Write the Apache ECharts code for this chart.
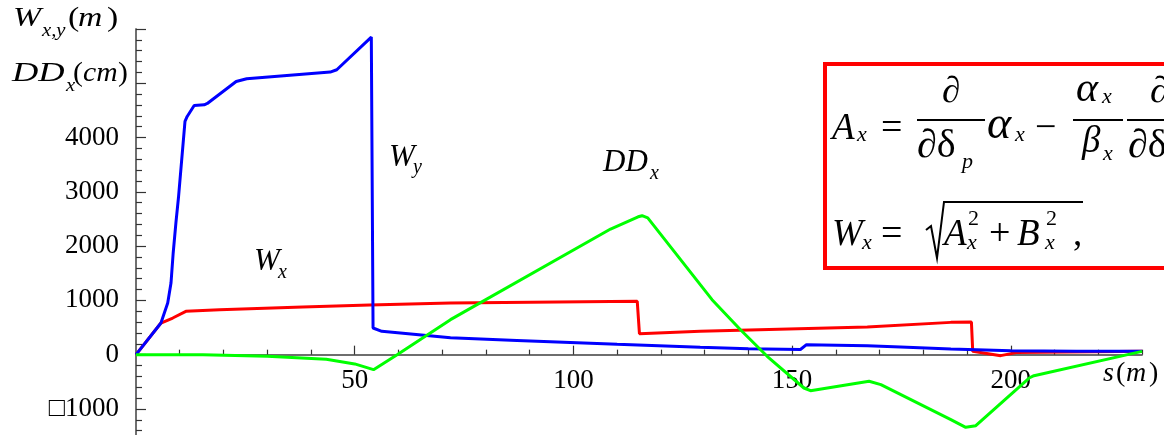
<!DOCTYPE html>
<html>
<head>
<meta charset="utf-8">
<script src="https://cdn.jsdelivr.net/npm/echarts@6/dist/echarts.min.js"></script>
<style>
  html, body { margin: 0; padding: 0; background: #fff; }
  #chart { width: 1164px; height: 435px; }
</style>
</head>
<body>
<div id="chart"></div>
<script>
// Path position s (m) and values for each curve
const wyS = [0, 5.7, 7.25, 8.0, 8.5, 9.15, 9.7, 11.2, 11.7, 13.3, 15.6, 16.3, 22.9, 25.3, 44.4, 45.9, 53.8, 54.2, 56.2, 71.9, 87.1, 110, 129, 140, 151.9, 153.3, 167.2, 174.8, 186.3, 200, 215, 230];
const wyV = [0, 583, 951, 1320, 1873, 2450, 2886, 4297, 4389, 4591, 4604, 4628, 5033, 5083, 5206, 5249, 5851, 491, 430, 310, 263, 190, 135, 110, 95, 184, 166, 142, 105, 70, 62, 61];

const wxS = [0, 5.7, 8.4, 11.4, 19.1, 38.1, 53.4, 71.9, 114.6, 115.1, 129, 167.2, 186.3, 191, 191.3, 197.7, 201.5, 230];
const wxV = [0, 583, 675, 798, 829, 878, 913, 952, 982, 387, 430, 510, 595, 600, 61, -18, 42, 61];

const ddS = [0, 15.3, 30, 43.5, 50, 54.3, 59.7, 71.9, 108.5, 114.8, 115.7, 117, 131.7, 138.2, 144.3, 152.7, 154.2, 167.6, 170.3, 186.3, 189.7, 192, 204.2, 205.3, 230];
const ddV = [0, 0, -30, -85, -170, -276, 0, 645, 2315, 2540, 2560, 2520, 1013, 460, -30, -614, -663, -491, -552, -1197, -1339, -1308, -430, -387, 61];

// Tick positions
const xMajorTicks = [50, 100, 150, 200];
const xMinorTicks = [10, 20, 30, 40, 60, 70, 80, 90, 110, 120, 130, 140, 160, 170, 180, 190, 210, 220, 230];
const yMajorTicks = [-1000, 0, 1000, 2000, 3000, 4000, 5000, 6000];
const yLabelTicks = [-1000, 0, 1000, 2000, 3000, 4000];
const yMinorTicks = [];
for (let v = -1400; v <= 5800; v += 200) if (v % 1000 !== 0) yMinorTicks.push(v);

const SERIF = '"Liberation Serif", "DejaVu Serif", serif';
const zip = (a, b) => a.map((v, i) => [v, b[i]]);

// text placed by its alphabetic baseline, optionally stretched horizontally
function t(str, x, base, size, italic, sx) {
  return {
    type: 'text', x: x, y: base - 0.34 * size, z: 100,
    scaleX: sx || 1,
    style: {
      text: str, fill: '#000',
      font: (italic ? 'italic ' : '') + size + 'px ' + SERIF,
      align: 'left', textAlign: 'left',
      verticalAlign: 'middle', textVerticalAlign: 'middle'
    }
  };
}
function hline(x1, x2, y, w) {
  return { type: 'line', z: 100, shape: { x1: x1, y1: y, x2: x2, y2: y }, style: { stroke: '#000', lineWidth: w || 2 } };
}

const axisColor = '#666';
const labelStyle = { fontFamily: SERIF, fontSize: 27, color: '#000' };

const graphics = [
  // axis titles
  t('W', 13, 28, 27, true, 1.25), t('x,y', 42, 37, 18, true, 1.15),
  t('(', 68, 28, 27, false, 1.25), t('m', 78, 28, 27, true, 1.25), t(')', 107, 28, 27, false, 1.25),
  t('DD', 12, 83, 27, true, 1.35), t('x', 66, 92, 18, true, 1.15),
  t('(', 73, 83, 27, false, 1.1), t('cm', 83, 83, 27, true, 1.1), t(')', 118, 83, 27, false, 1.1),
  t('s', 1103, 383, 28, true), t('(', 1116, 383, 28, false), t('m', 1126, 383, 28, true), t(')', 1149, 383, 28, false),
  // curve names
  t('W', 254, 272, 31, true), t('x', 278, 280, 20, true),
  t('W', 389, 168, 31, true), t('y', 413, 175, 20, true),
  t('DD', 603, 173, 31, true), t('x', 650, 181, 20, true),
  // formula frame
  { type: 'rect', z: 90, shape: { x: 825, y: 64, width: 360, height: 204 }, style: { fill: '#fff', stroke: '#ff0000', lineWidth: 4 } },
  // A_x = d/d(delta_p) alpha_x - alpha_x/beta_x d/d(delta) ...
  t('A', 832, 142, 37, true), t('x', 857, 143, 22, true),
  t('=', 881, 142, 38, false),
  t('\u2202', 942, 105, 37, false), hline(917, 985, 120),
  t('\u2202\u03B4', 917, 160, 40, false), t('p', 962, 170, 22, true),
  t('\u03B1', 987, 142, 46, true), t('x', 1015, 143, 22, true),
  t('\u2212', 1035, 142, 38, false),
  t('\u03B1', 1076, 104, 42, true), t('x', 1102, 105, 22, true), hline(1073, 1123, 120),
  t('\u03B2', 1082, 155, 37, true), t('x', 1103, 162, 22, true),
  t('\u2202', 1150, 105, 37, false), hline(1127, 1175, 120),
  t('\u2202\u03B4', 1128, 160, 40, false),
  // W_x = sqrt(A_x^2 + B_x^2),
  t('W', 832, 248, 37, true), t('x', 862, 251, 22, true),
  t('=', 881, 248, 38, false),
  { type: 'polyline', z: 100, shape: { points: [[926, 230], [931, 226], [937, 258], [944, 202], [1083, 202]] }, style: { stroke: '#000', lineWidth: 2, fill: null } },
  t('A', 944, 248, 37, true), t('2', 968, 227, 22, false), t('x', 967, 251, 22, true),
  t('+', 989, 248, 38, false),
  t('B', 1017, 248, 37, true), t('2', 1046, 227, 22, false), t('x', 1045, 251, 22, true),
  t(',', 1073, 248, 37, false)
];

const chart = echarts.init(document.getElementById('chart'), null, { renderer: 'canvas' });
chart.setOption({
  animation: false,
  backgroundColor: '#fff',
  grid: [
    { left: 136, right: 22, top: 29, bottom: 0, containLabel: false, outerBoundsMode: 'none' },
    // label strip whose lower edge sits on the s axis line (value 0)
    { left: 136, right: 22, top: 29, height: 326, containLabel: false, outerBoundsMode: 'none' }
  ],
  xAxis: [
    {
      type: 'value', min: 0, max: 230, position: 'bottom', gridIndex: 0,
      axisLine: { show: true, onZero: true, onZeroAxisIndex: 0, lineStyle: { color: axisColor, width: 1.5 } },
      axisTick: { show: true, inside: true, length: 9, customValues: xMajorTicks, lineStyle: { color: '#333', width: 1.2 } },
      axisLabel: { show: false },
      splitLine: { show: false }
    },
    {
      type: 'value', min: 0, max: 230, position: 'bottom', gridIndex: 0,
      axisLine: { show: true, onZero: true, onZeroAxisIndex: 0, lineStyle: { color: axisColor, width: 1.5 } },
      axisTick: { show: true, inside: true, length: 5, customValues: xMinorTicks, lineStyle: { color: '#333', width: 1.2 } },
      axisLabel: { show: false },
      splitLine: { show: false }
    },
    {
      type: 'value', min: 0, max: 230, position: 'bottom', gridIndex: 1,
      axisLine: { show: false, onZero: false },
      axisTick: { show: false },
      axisLabel: Object.assign({ customValues: xMajorTicks, margin: 12 }, labelStyle),
      splitLine: { show: false }
    }
  ],
  yAxis: [
    {
      type: 'value', min: -1480, max: 6000, position: 'left', gridIndex: 0,
      axisLine: { show: true, onZero: false, lineStyle: { color: axisColor, width: 1.5 } },
      axisTick: { show: true, inside: true, length: 10, customValues: yMajorTicks, lineStyle: { color: '#333', width: 1.2 } },
      axisLabel: Object.assign({
        customValues: yLabelTicks, margin: 17,
        formatter: v => (v < 0 ? '\u25A1' + Math.abs(v) : String(v))
      }, labelStyle),
      splitLine: { show: false }
    },
    {
      type: 'value', min: -1480, max: 6000, position: 'left', gridIndex: 0,
      axisLine: { show: true, onZero: false, lineStyle: { color: axisColor, width: 1.5 } },
      axisTick: { show: true, inside: true, length: 6, customValues: yMinorTicks, lineStyle: { color: '#333', width: 1.2 } },
      axisLabel: { show: false },
      splitLine: { show: false }
    },
    {
      type: 'value', min: 0, max: 1, gridIndex: 1, show: false
    }
  ],
  series: [
    { name: 'Wx', type: 'line', xAxisIndex: 0, yAxisIndex: 0, data: zip(wxS, wxV), symbol: 'none', z: 3, lineStyle: { color: '#ff0000', width: 3 }, itemStyle: { color: '#ff0000' } },
    { name: 'Wy', type: 'line', xAxisIndex: 0, yAxisIndex: 0, data: zip(wyS, wyV), symbol: 'none', z: 4, lineStyle: { color: '#0000ff', width: 3 }, itemStyle: { color: '#0000ff' } },
    { name: 'DDx', type: 'line', xAxisIndex: 0, yAxisIndex: 0, data: zip(ddS, ddV), symbol: 'none', z: 5, lineStyle: { color: '#00ff00', width: 3 }, itemStyle: { color: '#00ff00' } }
  ],
  graphic: graphics
});
</script>
</body>
</html>
